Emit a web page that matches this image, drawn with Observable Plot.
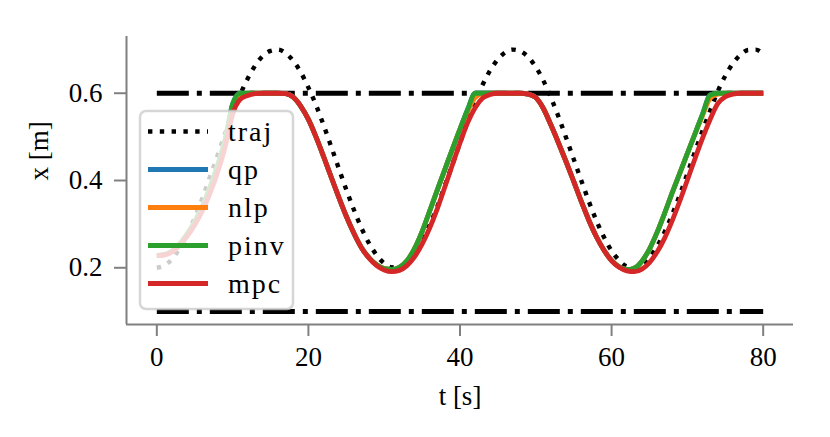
<!DOCTYPE html>
<html>
<head>
<meta charset="utf-8">
<script src="https://cdn.jsdelivr.net/npm/d3@7"></script>
<script src="https://cdn.jsdelivr.net/npm/@observablehq/plot@0.6"></script>
<style>
  body { margin: 0; background: #fff; }
  #wrap { width: 830px; height: 437px; }
  #wrap svg text { font-family: "Liberation Serif", serif; }
</style>
</head>
<body>
<div id="wrap"></div>
<script>
// ---- data ----
const t = [0,1,2,3,4,5,6,7,8,9,10,11,12,13,14,15,16,17,18,19,20,21,22,23,24,25,26,27,28,29,30,
  31,32,33,34,35,36,37,38,39,40,41,42,43,44,45,46,47,48,49,50,51,52,53,54,55,56,57,58,59,60,
  61,62,63,64,65,66,67,68,69,70,71,72,73,74,75,76,77,78,79,80];

const traj = [0.200,0.205,0.220,0.244,0.276,0.315,0.359,0.408,0.457,0.507,0.554,0.597,0.634,0.664,0.686,0.697,
  0.700,0.692,0.674,0.648,0.613,0.573,0.527,0.478,0.428,0.379,0.333,0.291,0.256,0.229,0.210,
  0.201,0.202,0.212,0.233,0.261,0.298,0.340,0.388,0.437,0.486,0.535,0.580,0.620,0.653,0.678,
  0.694,0.700,0.696,0.683,0.660,0.629,0.590,0.546,0.498,0.449,0.400,0.352,0.308,0.270,0.239,
  0.217,0.203,0.200,0.207,0.223,0.249,0.282,0.322,0.367,0.416,0.466,0.514,0.560,0.604,0.640,
  0.668,0.688,0.699,0.700,0.690];

const pinv = [0.228,0.230,0.238,0.254,0.277,0.305,0.340,0.383,0.433,0.492,0.575,0.600,0.600,0.600,0.600,0.600,
  0.600,0.599,0.591,0.570,0.540,0.500,0.455,0.408,0.362,0.318,0.279,0.246,0.223,0.207,0.198,
  0.196,0.201,0.216,0.244,0.283,0.330,0.378,0.425,0.472,0.518,0.562,0.600,0.600,0.600,0.600,
  0.600,0.600,0.600,0.598,0.590,0.565,0.527,0.486,0.443,0.398,0.352,0.309,0.271,0.240,0.217,
  0.202,0.196,0.199,0.215,0.243,0.281,0.325,0.372,0.417,0.462,0.507,0.552,0.596,0.600,0.600,
  0.600,0.600,0.600,0.600,0.600];

const qp = [0.228,0.230,0.238,0.254,0.277,0.305,0.340,0.383,0.433,0.492,0.575,0.600,0.600,0.600,0.600,0.600,
  0.600,0.599,0.591,0.570,0.540,0.500,0.455,0.408,0.362,0.318,0.279,0.246,0.223,0.207,0.198,
  0.196,0.201,0.216,0.244,0.283,0.330,0.378,0.425,0.472,0.518,0.562,0.600,0.600,0.600,0.600,
  0.600,0.600,0.600,0.598,0.590,0.565,0.527,0.486,0.443,0.398,0.352,0.309,0.271,0.240,0.217,
  0.202,0.196,0.199,0.215,0.243,0.281,0.325,0.372,0.417,0.462,0.507,0.552,0.596,0.600,0.600,
  0.600,0.600,0.600,0.600,0.600];

const nlp = [0.228,0.230,0.238,0.254,0.277,0.305,0.340,0.383,0.433,0.490,0.568,0.596,0.600,0.600,0.600,0.600,
  0.600,0.599,0.591,0.570,0.540,0.500,0.455,0.408,0.362,0.318,0.279,0.246,0.223,0.207,0.198,
  0.196,0.201,0.216,0.244,0.283,0.330,0.378,0.425,0.472,0.518,0.558,0.590,0.599,0.600,0.600,
  0.600,0.600,0.600,0.598,0.590,0.565,0.527,0.486,0.443,0.398,0.352,0.309,0.271,0.240,0.217,
  0.202,0.196,0.199,0.215,0.243,0.281,0.325,0.372,0.417,0.462,0.507,0.549,0.588,0.598,0.600,
  0.600,0.600,0.600,0.600,0.600];

const mpc = [0.228,0.229,0.236,0.251,0.272,0.298,0.330,0.370,0.418,0.476,0.552,0.586,0.595,0.599,0.600,0.600,
  0.600,0.599,0.591,0.570,0.540,0.500,0.455,0.408,0.362,0.318,0.279,0.246,0.222,0.205,0.195,
  0.191,0.194,0.205,0.225,0.254,0.291,0.335,0.385,0.436,0.486,0.532,0.567,0.589,0.597,0.600,
  0.600,0.600,0.600,0.598,0.590,0.565,0.527,0.486,0.443,0.398,0.352,0.309,0.271,0.240,0.216,
  0.201,0.193,0.191,0.197,0.212,0.236,0.268,0.308,0.353,0.401,0.450,0.497,0.540,0.576,0.592,
  0.598,0.600,0.600,0.600,0.600];

const boundT = [0, 80];
const upperBound = [0.6, 0.6];
const lowerBound = [0.1, 0.1];

const xTicks = [0, 20, 40, 60, 80];
const yTicks = [0.2, 0.4, 0.6];
const xLabel = "t [s]";
const yLabel = "x [m]";

const seriesNames = ["traj", "qp", "nlp", "pinv", "mpc"];
const seriesColors = ["black", "#1f77b4", "#ff7f0e", "#2ca02c", "#d62728"];

// ---- tables ----
const rows = t.map((ti, i) => ({t: ti, traj: traj[i], qp: qp[i], nlp: nlp[i], pinv: pinv[i], mpc: mpc[i]}));
const bounds = boundT.map((ti, i) => ({t: ti, hi: upperBound[i], lo: lowerBound[i]}));

const FONT = "Liberation Serif";
const FS = 27;
const LW = 4.8;
const GRAY = "#808080";
const DOT = "4.4,7.4";
const DASHDOT = "32,8,5,8";

const chart = Plot.plot({
  width: 830,
  height: 437,
  marginLeft: 126,
  marginRight: 37,
  marginTop: 36,
  marginBottom: 113,
  x: {domain: [-4, 84]},
  y: {domain: [0.07, 0.73]},
  style: {fontFamily: FONT, fontSize: FS + "px", color: "black", background: "white"},
  marks: [
    Plot.ruleX([-4], {stroke: GRAY, strokeWidth: 2}),
    Plot.ruleY([0.07], {stroke: GRAY, strokeWidth: 2}),
    Plot.axisX({ticks: xTicks, tickSize: 12, tickPadding: 10, stroke: GRAY, strokeWidth: 2,
      fill: "black", fontSize: FS, label: null, tickFormat: d => String(d)}),
    Plot.axisY({ticks: yTicks, tickSize: 12, tickPadding: 12, stroke: GRAY, strokeWidth: 2,
      fill: "black", fontSize: FS, label: null, tickFormat: d => d.toFixed(1)}),
    Plot.text([xLabel], {text: d => d, frameAnchor: "bottom", dy: 72, lineAnchor: "middle", fontSize: FS, fill: "black"}),
    Plot.text([yLabel], {text: d => d, frameAnchor: "left", dx: -87, rotate: -90, lineAnchor: "middle", fontSize: FS, fill: "black"}),
    Plot.line(bounds, {x: "t", y: "hi", stroke: "black", strokeWidth: 5, strokeDasharray: DASHDOT, strokeLinecap: "butt"}),
    Plot.line(bounds, {x: "t", y: "lo", stroke: "black", strokeWidth: 5, strokeDasharray: DASHDOT, strokeLinecap: "butt"}),
    Plot.line(rows, {x: "t", y: "traj", stroke: seriesColors[0], strokeWidth: 4.4, strokeDasharray: DOT, strokeLinecap: "butt", curve: "monotone-x"}),
    Plot.line(rows, {x: "t", y: "qp", stroke: seriesColors[1], strokeWidth: LW, strokeLinecap: "butt", curve: "monotone-x"}),
    Plot.line(rows, {x: "t", y: "nlp", stroke: seriesColors[2], strokeWidth: LW, strokeLinecap: "butt", curve: "monotone-x"}),
    Plot.line(rows, {x: "t", y: "pinv", stroke: seriesColors[3], strokeWidth: LW, strokeLinecap: "butt", curve: "monotone-x"}),
    Plot.line(rows, {x: "t", y: "mpc", stroke: seriesColors[4], strokeWidth: LW, strokeLinecap: "butt", curve: "monotone-x"})
  ]
});

// ---- legend ----
const svg = d3.select(chart);
const lg = svg.append("g").attr("class", "legend");
lg.append("rect")
  .attr("x", 140).attr("y", 111).attr("width", 153).attr("height", 198)
  .attr("rx", 6).attr("ry", 6)
  .attr("fill", "white").attr("fill-opacity", 0.8)
  .attr("stroke", "#cccccc").attr("stroke-opacity", 0.8).attr("stroke-width", 2.5);
seriesNames.forEach((name, i) => {
  const cy = 131.5 + 38 * i;
  lg.append("line")
    .attr("x1", 148).attr("x2", 208).attr("y1", cy).attr("y2", cy)
    .attr("stroke", seriesColors[i])
    .attr("stroke-width", i === 0 ? 4.4 : LW)
    .attr("stroke-linecap", "butt")
    .attr("stroke-dasharray", i === 0 ? DOT : null);
  lg.append("text")
    .attr("x", 228).attr("y", cy + 9)
    .attr("text-anchor", "start")
    .attr("font-family", FONT).attr("font-size", 28).attr("fill", "black")
    .attr("letter-spacing", "2px")
    .text(name);
});

document.getElementById("wrap").appendChild(chart);
</script>
</body>
</html>
